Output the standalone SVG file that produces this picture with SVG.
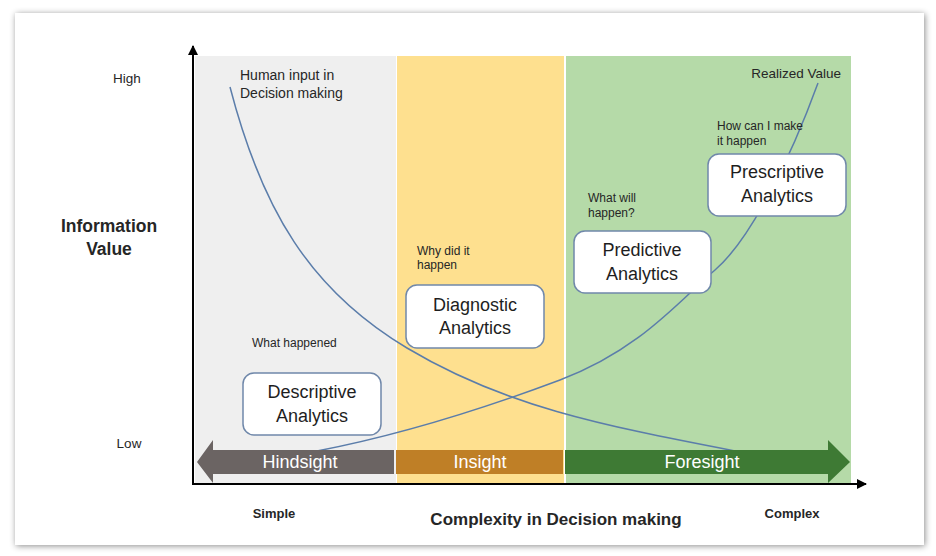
<svg xmlns="http://www.w3.org/2000/svg" width="936" height="556" viewBox="0 0 936 556">
<defs>
<filter id="shadow" x="-5%" y="-5%" width="110%" height="110%">
<feDropShadow dx="1" dy="1" stdDeviation="3" flood-color="#000" flood-opacity="0.45"/>
</filter>
<marker id="axisArrow" viewBox="0 0 10 10" refX="9" refY="5" markerWidth="5" markerHeight="5" orient="auto">
<path d="M0,0 L10,5 L0,10 z" fill="#000"/>
</marker>
<style>
text{font-family:"Liberation Sans",Arial,sans-serif;fill:#262626}
.small{font-size:12px}
.mid{font-size:14px}
.box{fill:#fff;stroke:#7088AA;stroke-width:1.5}
.boxt{font-size:18px;text-anchor:middle;fill:#1e1e1e}
.band{font-size:18px;text-anchor:middle;fill:#fff}
.curve{fill:none;stroke:#5B7DAA;stroke-width:1.5}
.bold{font-weight:bold}
</style>
</defs>
<rect width="936" height="556" fill="#fff"/>
<rect x="15" y="13" width="909" height="532" fill="#fff" filter="url(#shadow)"/>

<g id="regions">
<rect x="195" y="56" width="201" height="428" fill="#EFEFEF"/>
<rect x="397" y="56" width="167" height="428" fill="#FEE08F"/>
<rect x="566" y="56" width="285" height="428" fill="#B5DAA8"/>
</g>

<g id="axes" stroke="#000" stroke-width="2" fill="none">
<line x1="193" y1="485" x2="193" y2="46" marker-end="url(#axisArrow)"/>
<line x1="192" y1="484" x2="866" y2="484" marker-end="url(#axisArrow)"/>
</g>

<g id="connectors">
<path class="curve" d="M230,87 C262,210 310,290 407,348 S600,425 735,451"/>
<path class="curve" d="M317,451 C400,435 480,410 560,380 S680,300 715,270 S790,160 818,83"/>
</g>

<g id="band-hindsight">
<polygon points="394,450 213,450 213,440 197,462 213,483 213,474 394,474" fill="#6B6463"/>
<text class="band" x="300" y="468">Hindsight</text>
</g>
<g id="band-insight">
<rect x="396" y="450" width="167" height="24" fill="#BF7F26"/>
<text class="band" x="480" y="468">Insight</text>
</g>
<g id="band-foresight">
<polygon points="565,450 828,450 828,440 850,462 828,483 828,474 565,474" fill="#3E7A34"/>
<text class="band" x="702" y="468">Foresight</text>
</g>

<g id="node-descriptive">
<rect class="box" x="243" y="373" width="138" height="62" rx="11"/>
<text class="boxt" x="312" y="398">Descriptive</text>
<text class="boxt" x="312" y="422">Analytics</text>
</g>
<g id="node-diagnostic">
<rect class="box" x="406" y="285" width="138" height="63" rx="11"/>
<text class="boxt" x="475" y="311">Diagnostic</text>
<text class="boxt" x="475" y="334">Analytics</text>
</g>
<g id="node-predictive">
<rect class="box" x="574" y="231" width="137" height="62" rx="11"/>
<text class="boxt" x="642" y="256">Predictive</text>
<text class="boxt" x="642" y="280">Analytics</text>
</g>
<g id="node-prescriptive">
<rect class="box" x="708" y="154" width="138" height="62" rx="11"/>
<text class="boxt" x="777" y="178">Prescriptive</text>
<text class="boxt" x="777" y="202">Analytics</text>
</g>

<g id="labels">
<text class="mid" x="240" y="80">Human input in</text>
<text class="mid" x="240" y="98">Decision making</text>
<text x="841" y="78" font-size="13.5" text-anchor="end">Realized Value</text>
<text class="small" x="717" y="130">How can I make</text>
<text class="small" x="717" y="145">it happen</text>
<text class="small" x="588" y="202">What will</text>
<text class="small" x="588" y="217">happen?</text>
<text class="small" x="417" y="255">Why did it</text>
<text class="small" x="417" y="269">happen</text>
<text class="small" x="252" y="347">What happened</text>
<text x="127" y="83" font-size="13.5" text-anchor="middle">High</text>
<text x="129" y="448" font-size="13.5" text-anchor="middle">Low</text>
<text class="bold" x="109" y="232" font-size="17.5" text-anchor="middle">Information</text>
<text class="bold" x="109" y="255" font-size="17.5" text-anchor="middle">Value</text>
<text class="bold" x="274" y="518" font-size="13" text-anchor="middle">Simple</text>
<text class="bold" x="556" y="525" font-size="17" text-anchor="middle">Complexity in Decision making</text>
<text class="bold" x="792" y="518" font-size="13" text-anchor="middle">Complex</text>
</g>
</svg>
